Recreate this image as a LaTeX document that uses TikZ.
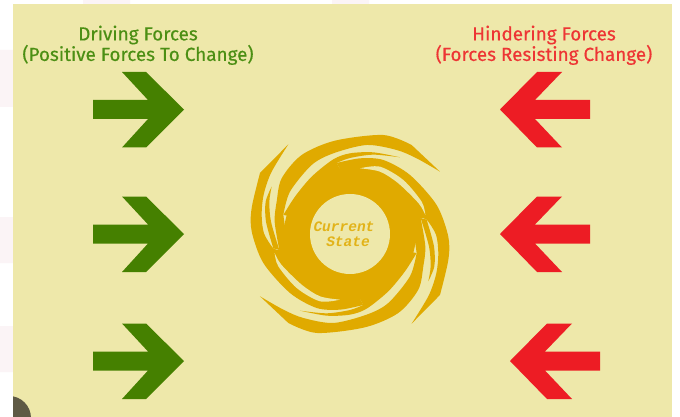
\documentclass[tikz,border=0pt]{standalone}
\usepackage{fontspec}
\setmainfont{Fira Sans}
\newfontfamily\monofnt{Liberation Mono}
\definecolor{panel}{HTML}{EEE8AA}
\definecolor{gogreen}{HTML}{458000}
\definecolor{gotext}{HTML}{4C8F14}
\definecolor{stopred}{HTML}{ED1C24}
\definecolor{swirl}{HTML}{E0AA00}
\definecolor{ghost}{HTML}{FBF4F6}
\definecolor{puck}{HTML}{5F5A45}
\newcommand{\medium}{\addfontfeature{FakeBold=0.4}}
\tikzset{
  title/.style={align=center,font=\fontsize{18.9}{20.5}\selectfont\medium,inner sep=0pt},
  greentitle/.style={title,text=gotext},
  redtitle/.style={title,text=stopred!88!panel},
  statetext/.style={inner sep=0pt,text=swirl!85!panel,font=\fontsize{14.5}{15}\selectfont\monofnt\bfseries\itshape},
  rightarrow/.pic={\fill[gogreen] (-91,-9.5) -- (-36,-9.5) -- (-62,-37.5) -- (-38,-37.5) -- (0,0) -- (-38,38) -- (-62,38) -- (-36,9.5) -- (-91,9.5) -- cycle;},
  leftarrow/.pic={\fill[stopred] (0,0) -- (37,-37.5) -- (62,-37.5) -- (35,-9.5) -- (90,-9.5) -- (90,9.5) -- (35,9.5) -- (62,38) -- (37,38) -- cycle;},
  swirlhalf/.pic={
    \fill[swirl] plot[smooth] coordinates {(148,390) (134,305) (140,245) (155,175) (215,105) (315,62) (460,45) (545,75)}
      -- (630,155)
      -- plot[smooth] coordinates {(630,155) (560,115) (500,90) (410,75) (310,100) (245,135) (180,215) (160,285)} -- (175,390) -- cycle;
    \fill[swirl] plot[smooth] coordinates {(160,285) (195,230) (245,170) (310,118) (360,100) (430,97) (510,112)}
      -- plot[smooth] coordinates {(510,112) (430,104) (360,114) (320,129)} -- (360,200) -- (250,300) -- cycle;
    \fill[swirl] plot[smooth] coordinates {(320,129) (390,115) (460,120) (540,165) (620,255) (655,350) (655,420) (630,525)}
      -- (545,611)
      -- plot[smooth] coordinates {(545,611) (596,527) (619,460) (625,400) (618,344) (590,299) (572,294)}
      -- (500,300) -- (360,200) -- cycle;
    \fill[swirl] plot[smooth] coordinates {(125,200) (107,245) (108,305) (130,385)}
      -- plot[smooth] coordinates {(148,390) (123,305) (118,245) (125,200)} -- cycle;
  },
  swirlslit/.pic={
    \fill[panel] plot[smooth] coordinates {(390,145) (450,140) (520,180) (575,245) (586,285)}
      -- plot[smooth] coordinates {(586,285) (566,250) (505,190) (450,155) (390,145)} -- cycle;
  }
}
\begin{document}
\begin{tikzpicture}[x=1pt,y=-1pt]
\useasboundingbox (0,0) rectangle (680,417);
\fill[white] (0,0) rectangle (680,417);
\fill[ghost] (0,50) rectangle (13,107) (0,217) rectangle (13,263) (0,326) rectangle (13,372) (83,0) rectangle (130,4) (332,0) rectangle (369,4);
\fill[panel] (13,4) rectangle (672,417);
\begin{scope}
\clip (13,4) rectangle (672,417);
\fill[puck] (9,418) circle (22);
\end{scope}
\node[greentitle] (drive) at (138,45.3) {Driving Forces\\(Positive Forces To Change)};
\node[redtitle] (hinder) at (544,45.3) {Hindering Forces\\(Forces Resisting Change)};
\pic at (184,109.5) {rightarrow};
\pic at (184,234) {rightarrow};
\pic at (184,361) {rightarrow};
\pic at (500,109.5) {leftarrow};
\pic at (500,234) {leftarrow};
\pic at (510,361) {leftarrow};
\begin{scope}[shift={(230,120)},x=0.3333pt,y=-0.3333pt]
\fill[swirl] (360,342) circle (198);
\pic at (0,0) {swirlhalf};
\pic[rotate=180] at (720,684) {swirlhalf};
\pic at (0,0) {swirlslit};
\pic[rotate=180] at (720,684) {swirlslit};
\fill[panel] (360,342) circle (120);
\end{scope}
\node[statetext] (cur) at (344,227) {Current};
\node[statetext] (sta) at (348,242) {State};
\end{tikzpicture}
\end{document}
